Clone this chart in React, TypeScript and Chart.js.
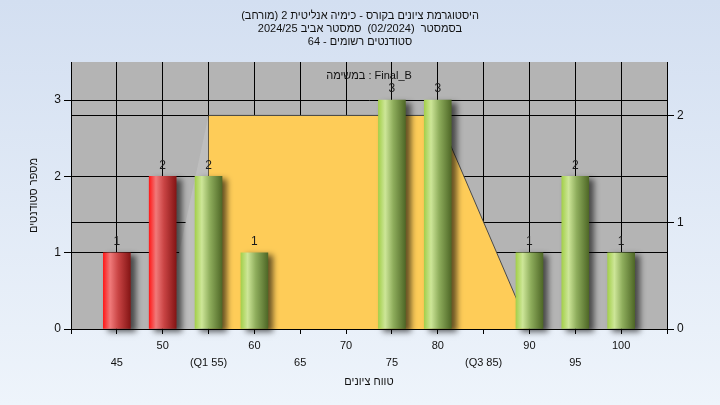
import React, { useEffect, useRef } from 'react';
import { Chart, registerables } from 'chart.js';

Chart.register(...registerables);

// ---- data ----
const titleLines = [
  'היסטוגרמת ציונים בקורס - כימיה אנליטית 2 (מורחב)',
  'בסמסטר  (02/2024)  סמסטר אביב 2024/25',
  'סטודנטים רשומים - 64',
];
const taskLabel = 'במשימה : Final_B';
const xAxisTitle = 'טווח ציונים';
const yAxisTitle = 'מספר סטודנטים';

const scores = [45, 50, 55, 60, 65, 70, 75, 80, 85, 90, 95, 100];
const counts = [1, 2, 2, 1, 0, 0, 3, 3, 0, 1, 2, 1];
const q1Score = 55;
const q3Score = 85;
const passMark = 55;

// spread shape (right axis)
const areaX = [55, 80, 90];
const areaY = [2, 2, 0];
const wedgeX = [50, 55];
const wedgeY = [0, 2];

const xMin = 40;
const xMax = 105;
const xStep = 5;
const yLeftMax = 3.5;
const yRightMax = 2.5;

const BAR_W = 27;
const FONT = '"Liberation Sans", Arial, sans-serif';

function barGradient(c: any) {
  const chart = c.chart;
  if (c.type !== 'data' || !chart.chartArea || !c.raw) return '#cc3333';
  const cx = chart.scales.x.getPixelForValue(c.raw.x);
  const half = BAR_W / 2;
  const g = chart.ctx.createLinearGradient(cx - half, 0, cx + half, 0);
  if (c.raw.x < passMark) {
    g.addColorStop(0, '#ff1a1a');
    g.addColorStop(0.25, '#f07a7a');
    g.addColorStop(0.55, '#c94444');
    g.addColorStop(1, '#851515');
  } else {
    g.addColorStop(0, '#a4d04c');
    g.addColorStop(0.25, '#cde698');
    g.addColorStop(0.55, '#8ead5c');
    g.addColorStop(1, '#4f6827');
  }
  return g;
}

const plotBg = {
  id: 'plotBg',
  beforeDraw(chart: any) {
    const { ctx, chartArea: a } = chart;
    ctx.save();
    ctx.fillStyle = '#b4b4b4';
    ctx.fillRect(a.left, a.top, a.right - a.left, a.bottom - a.top);
    ctx.restore();
  },
  beforeDatasetsDraw(chart: any) {
    const { ctx, chartArea: a } = chart;
    ctx.save();
    ctx.font = `11px ${FONT}`;
    ctx.fillStyle = '#111';
    ctx.textAlign = 'center';
    ctx.textBaseline = 'middle';
    ctx.fillText(taskLabel, (a.left + a.right) / 2, a.top + 14);
    ctx.restore();
  },
};

const barShadow = {
  id: 'barShadow',
  beforeDatasetDraw(chart: any, args: any) {
    if (chart.data.datasets[args.index].type !== 'bar') return;
    const ctx = chart.ctx;
    ctx.save();
    ctx.shadowColor = 'rgba(0,0,0,0.6)';
    ctx.shadowBlur = 6;
    ctx.shadowOffsetX = 5;
    ctx.shadowOffsetY = 3;
  },
  afterDatasetDraw(chart: any, args: any) {
    if (chart.data.datasets[args.index].type !== 'bar') return;
    chart.ctx.restore();
  },
};

const barLabels = {
  id: 'barLabels',
  afterDatasetsDraw(chart: any) {
    const ctx = chart.ctx;
    chart.data.datasets.forEach((ds: any, di: number) => {
      if (ds.type !== 'bar') return;
      const meta = chart.getDatasetMeta(di);
      meta.data.forEach((el: any, i: number) => {
        ctx.save();
        ctx.font = `12px ${FONT}`;
        ctx.fillStyle = '#1a1a1a';
        ctx.textAlign = 'center';
        ctx.textBaseline = 'middle';
        ctx.fillText(String(ds.data[i].y), el.x, el.y - 11);
        ctx.restore();
      });
    });
  },
};

function tickLabel(v: any) {
  const n = Number(v);
  const i = scores.indexOf(n);
  if (i < 0) return '';
  const t = n === q1Score ? `(Q1 ${n})` : n === q3Score ? `(Q3 ${n})` : String(n);
  return i % 2 === 0 ? ['', t] : t;
}

export default function App() {
  const ref = useRef<HTMLCanvasElement | null>(null);
  useEffect(() => {
    if (!ref.current) return;
    Chart.defaults.font.family = FONT;
    Chart.defaults.color = '#000';
    const barData = scores
      .map((s, i) => ({ x: s, y: counts[i] }))
      .filter((d) => d.y > 0);
    const chart = new Chart(ref.current, {
      type: 'bar',
      data: {
        datasets: [
          {
            type: 'bar',
            data: barData,
            backgroundColor: barGradient,
            borderWidth: 0,
            barThickness: BAR_W,
            yAxisID: 'y',
            order: 0,
            clip: false,
          } as any,
          {
            type: 'line',
            data: areaX.map((x, i) => ({ x, y: areaY[i] })),
            yAxisID: 'y1',
            fill: 'origin',
            backgroundColor: '#fecc58',
            borderColor: '#4a4a4a',
            borderWidth: 1,
            pointRadius: 0,
            tension: 0,
            order: 1,
          } as any,
          {
            type: 'line',
            data: wedgeX.map((x, i) => ({ x, y: wedgeY[i] })),
            yAxisID: 'y1',
            fill: 'origin',
            backgroundColor: '#bebebe',
            borderWidth: 0,
            pointRadius: 0,
            tension: 0,
            order: 2,
          } as any,
        ],
      },
      options: {
        animation: false,
        responsive: true,
        maintainAspectRatio: false,
        events: [],
        layout: { padding: 0 },
        plugins: {
          legend: { display: false },
          tooltip: { enabled: false },
          title: {
            display: true,
            text: titleLines,
            color: '#111',
            font: { size: 11, weight: 'normal', lineHeight: 13 / 11 },
            padding: { top: 9.5, bottom: 13.5 },
          },
        },
        scales: {
          x: {
            type: 'linear',
            min: xMin,
            max: xMax,
            offset: false,
            ticks: {
              stepSize: xStep,
              autoSkip: false,
              maxRotation: 0,
              padding: 3,
              color: '#111',
              font: { size: 11, lineHeight: 17 / 11 },
              callback: tickLabel,
            },
            grid: { color: '#000', lineWidth: 1, tickLength: 5, offset: false },
            border: { display: true, color: '#000' },
            title: {
              display: true,
              text: xAxisTitle,
              color: '#111',
              font: { size: 11 },
              padding: { top: 2, bottom: 16 },
            },
            afterFit: (s: any) => {
              s.height = 76;
            },
          },
          y: {
            type: 'linear',
            position: 'left',
            min: 0,
            max: yLeftMax,
            ticks: { stepSize: 1, includeBounds: false, padding: 3, color: '#111', font: { size: 12 } },
            grid: { color: '#000', lineWidth: 1, tickLength: 7 },
            border: { display: true, color: '#000' },
            title: {
              display: true,
              text: yAxisTitle,
              color: '#111',
              font: { size: 11 },
              padding: { top: 27, bottom: 0 },
            },
            afterFit: (s: any) => {
              s.width = 71;
            },
          },
          y1: {
            type: 'linear',
            position: 'right',
            min: 0,
            max: yRightMax,
            ticks: { stepSize: 1, includeBounds: false, padding: 3, color: '#111', font: { size: 12 } },
            grid: { color: '#000', lineWidth: 1, tickLength: 7 },
            border: { display: true, color: '#000' },
            afterFit: (s: any) => {
              s.width = 53;
            },
          },
        },
      } as any,
      plugins: [plotBg, barShadow, barLabels],
    });
    return () => chart.destroy();
  }, []);

  return (
    <div
      style={{
        position: 'fixed',
        left: 0,
        top: 0,
        width: 720,
        height: 405,
        background: 'linear-gradient(to bottom, #d3dff1, #eef4fb)',
      }}
    >
      <canvas ref={ref} />
    </div>
  );
}
